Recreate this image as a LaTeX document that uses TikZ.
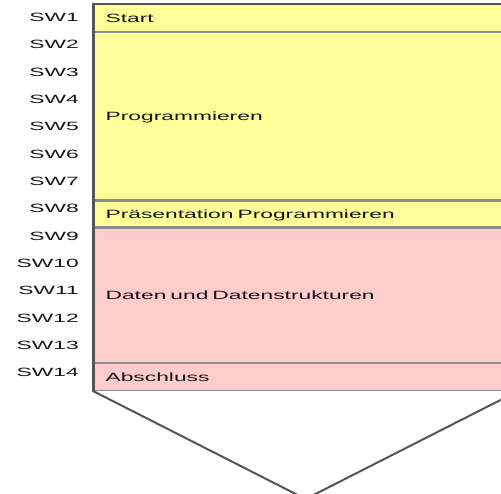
\documentclass[tikz,border=0pt]{standalone}
\usepackage{fontspec}
\newfontfamily\widesans[FakeStretch=1.9,WordSpace=1.6]{Liberation Sans}
\usetikzlibrary{positioning}
\definecolor{colorprog}  {RGB}{255,255,153}
\definecolor{colordata}  {RGB}{255,204,204}
\definecolor{colorframe} {RGB}{85 ,85 ,85 }
\definecolor{colorsep}   {RGB}{140,140,140}
\definecolor{colortext}  {RGB}{20 ,20 ,20 }

\begin{document}
\begin{tikzpicture}[
    x=1pt, y=-1pt,
    node distance = 0pt,
    font={\widesans\fontsize{12}{14}\selectfont},
    base/.style={text=colortext,inner sep=0pt,text height=8.6pt,text depth=0pt},
    phase/.style={base,draw=colorsep,line width=1.2pt,text width=400pt,align=left,inner xsep=12pt},
    week/.style={base,anchor=east},
    frame/.style={draw=colorframe,line width=2pt,line cap=round,line join=round},
]

    \useasboundingbox (0,0) rectangle (501,494);
    \clip (0,0) rectangle (501,494);

    % Phases
    \node[phase,fill=colorprog,minimum height=27pt,anchor=north west] (start) at (93,4) {Start};
    \node[phase,fill=colorprog,minimum height=167pt,below=of start] (prog)  {Programmieren};
    \node[phase,fill=colorprog,minimum height=26pt,below=of prog]   (praes) {Präsentation Programmieren};
    \node[phase,fill=colordata,minimum height=134pt,below=of praes] (daten) {Daten und Datenstrukturen};
    \node[phase,fill=colordata,minimum height=27pt,below=of daten]  (absch) {Abschluss};

    % Weeks
    \foreach \i in {1,...,14}
        \node[week] (sw\i) at (79,{17.3+27.32*(\i-1)}) {SW\i};

    % Frame
    \coordinate[below=108pt of absch.south] (apex);
    \draw[frame] (start.north west) -- (start.north east);
    \draw[frame,line width=3pt] (start.north west) -- (absch.south west);
    \draw[frame] (absch.south west) -- (apex) -- (absch.south east);

\end{tikzpicture}
\end{document}
